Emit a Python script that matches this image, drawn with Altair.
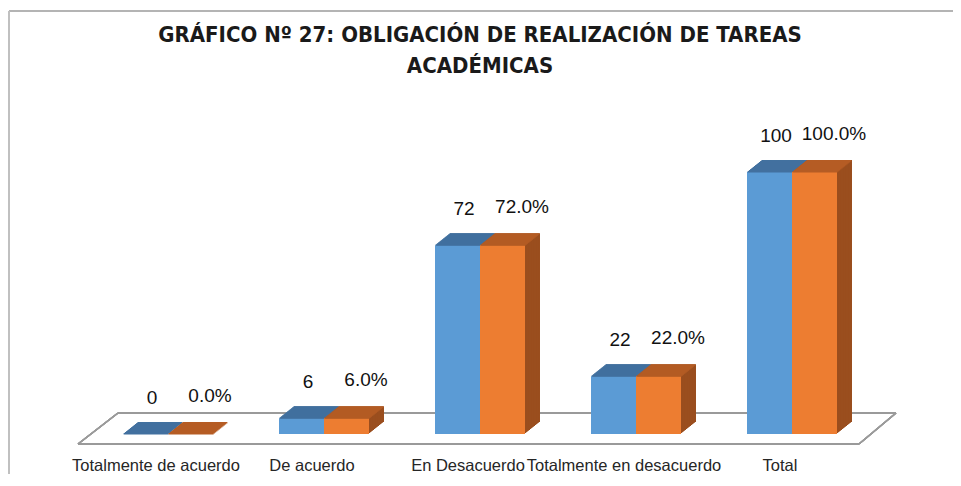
import altair as alt
import pandas as pd

# ---- data ----
categories = ["Totalmente de acuerdo", "De acuerdo", "En Desacuerdo",
              "Totalmente en desacuerdo", "Total"]
frecuencia = [0, 6, 72, 22, 100]
porcentaje = [0.0, 6.0, 72.0, 22.0, 100.0]

df = pd.DataFrame({"cat": categories, "f": frecuencia, "p": porcentaje})

# ---- style ----
BW = 45          # bar width (px)
DX, DY, N = 15, 12, 12   # 3D depth
BLUE, BLUE_TOP, BLUE_SIDE = "#5B9BD5", "#42719F", "#3A6590"
ORANGE, ORANGE_TOP, ORANGE_SIDE = "#ED7D31", "#B55C24", "#9A4E1E"
LABEL_FONT = "Liberation Sans"

x_enc = alt.X(
    "cat:N", sort=categories,
    scale=alt.Scale(paddingInner=0.42, paddingOuter=0.21),
    axis=alt.Axis(title=None, domain=False, ticks=False, grid=False,
                  labelAngle=0, labelFont=LABEL_FONT, labelFontSize=16.5,
                  labelColor="#262626", labelPadding=23, labelOffset=-12,
                  labelBaseline="top", labelLimit=400, labelOverlap=False),
)
y_scale = alt.Scale(domain=[0, 100], nice=False, zero=True)

base = alt.Chart(df)


def bar3d(field, center, front, top, side):
    layers = []
    # extrusion (side + top silhouette)
    for k in range(N, 0, -1):
        layers.append(
            base.mark_bar(width=BW, color=side, xOffset=center + DX * k / N,
                          yOffset=-DY * k / N, y2Offset=-DY * k / N)
            .encode(x=x_enc,
                    y=alt.Y(f"{field}:Q", scale=y_scale, axis=None),
                    y2=alt.datum(0))
        )
    # front face
    layers.append(
        base.mark_bar(width=BW, color=front, xOffset=center)
        .encode(x=x_enc, y=alt.Y(f"{field}:Q", scale=y_scale, axis=None),
                y2=alt.datum(0))
    )
    # top face as thin slanted strips
    for k in range(1, N + 1):
        layers.append(
            base.mark_bar(width=BW, color=top,
                          xOffset=center + DX * (k - 0.5) / N,
                          yOffset=-DY * k / N,
                          y2Offset=-DY * (k - 1) / N + 0.4)
            .encode(x=x_enc, y=alt.Y(f"{field}:Q", scale=y_scale, axis=None),
                    y2=alt.Y2(f"{field}:Q"))
        )
    return layers


# floor (decorative frame of the 3D plot)
floor_color = "#9a9a9a"
floor = [
    base.mark_rule(color=floor_color, strokeWidth=1.5).encode(
        x=alt.value(28), x2=alt.value(806), y=alt.value(241), y2=alt.value(241)),
    base.mark_rule(color=floor_color, strokeWidth=2).encode(
        x=alt.value(-12), x2=alt.value(769), y=alt.value(272), y2=alt.value(272)),
    base.mark_rule(color=floor_color, strokeWidth=1.5).encode(
        x=alt.value(-12), x2=alt.value(28), y=alt.value(272), y2=alt.value(241)),
    base.mark_rule(color=floor_color, strokeWidth=1.5).encode(
        x=alt.value(769), x2=alt.value(806), y=alt.value(272), y2=alt.value(241)),
]

# chart border (top and left visible)
border = [
    base.mark_rule(color="#b4b4b4", strokeWidth=1.5).encode(
        x=alt.value(-81), x2=alt.value(880), y=alt.value(-161), y2=alt.value(-161)),
    base.mark_rule(color="#c0c0c0", strokeWidth=1.2).encode(
        x=alt.value(-81), x2=alt.value(-81), y=alt.value(-161), y2=alt.value(320)),
]

blue_bars = bar3d("f", -BW / 2, BLUE, BLUE_TOP, BLUE_SIDE)
orange_bars = bar3d("p", BW / 2, ORANGE, ORANGE_TOP, ORANGE_SIDE)

labels_f = base.mark_text(font=LABEL_FONT, fontSize=19, color="#111111",
                          dx=-16, dy=-36, baseline="middle").encode(
    x=x_enc, y=alt.Y("f:Q", scale=y_scale, axis=None),
    text=alt.Text("f:Q", format="d"))

labels_p = base.transform_calculate(
    lab="format(datum.p, '.1f') + '%'"
).mark_text(font=LABEL_FONT, fontSize=19, color="#111111",
            dx=42, dy=-38, baseline="middle").encode(
    x=x_enc, y=alt.Y("p:Q", scale=y_scale, axis=None),
    text="lab:N")

chart = alt.layer(
    *floor, *blue_bars, *orange_bars, labels_f, labels_p, *border
).properties(
    width=780, height=262,
    title=alt.TitleParams(
        ["GRÁFICO  Nº 27:  OBLIGACIÓN DE REALIZACIÓN DE  TAREAS", "ACADÉMICAS"],
        font="'Liberation Sans Narrow', 'DejaVu Sans Condensed', sans-serif",
        fontSize=22, fontWeight="bold", color="#1a1a1a",
        lineHeight=31, anchor="middle", offset=-68),
    autosize=alt.AutoSizeParams(type="none"),
    padding={"left": 82, "top": 164, "right": 83, "bottom": 40},
).configure_view(stroke=None)

chart.save("out.html", embed_options={"renderer": "svg", "actions": False})
